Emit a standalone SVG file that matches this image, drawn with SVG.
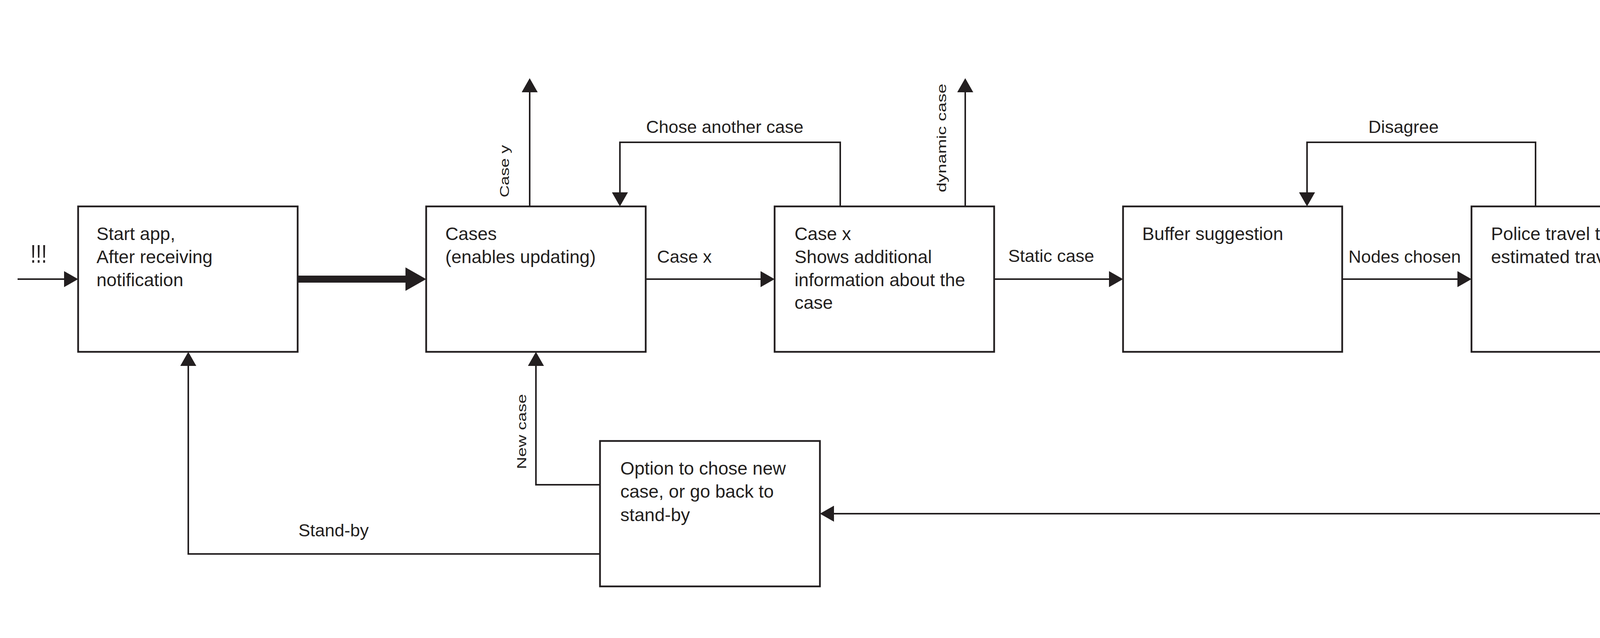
<svg xmlns="http://www.w3.org/2000/svg" width="5866" height="1632" viewBox="0 0 5866 1632">
<style>
.box{fill:#fff;stroke:#231f20;stroke-width:4.5}
.c{fill:none;stroke:#231f20;stroke-width:4}
.t{font-family:"Liberation Sans",Arial,sans-serif;font-size:46.5px;fill:#231f20}
.l{font-family:"Liberation Sans",Arial,sans-serif;font-size:45px;fill:#231f20}
.x{font-family:"Liberation Sans",Arial,sans-serif;font-size:64px;fill:#231f20}
.r{font-family:"Liberation Sans",Arial,sans-serif;font-size:33px;fill:#231f20}
</style>
<defs>
<marker id="ah" markerUnits="userSpaceOnUse" viewBox="0 0 36 41" markerWidth="36" markerHeight="41" refX="0" refY="20.5" orient="auto"><path d="M0,0 L36,20.5 L0,41 Z" fill="#231f20"/></marker>
<marker id="ahb" markerUnits="userSpaceOnUse" viewBox="0 0 53 60" markerWidth="53" markerHeight="60" refX="0" refY="30" orient="auto"><path d="M0,0 L53,30 L0,60 Z" fill="#231f20"/></marker>
</defs>
<rect width="5866" height="1632" fill="#fff"/>
<g id="connectors">
<path class="c" d="M45,714 H164" marker-end="url(#ah)"/>
<path fill="none" stroke="#231f20" stroke-width="18" d="M762,714 H1038" marker-end="url(#ahb)"/>
<path class="c" d="M1653,714 H1947" marker-end="url(#ah)"/>
<path class="c" d="M2545,714 H2839" marker-end="url(#ah)"/>
<path class="c" d="M3436,714 H3731" marker-end="url(#ah)"/>
<path class="c" d="M4328,714 H4623" marker-end="url(#ah)"/>
<path class="c" d="M5220,714 H5364 V1314 H4792" marker-end="url(#ah)"/>
<path class="c" d="M4194,1314 H2135" marker-end="url(#ah)"/>
<path class="c" d="M1536,1417 H482 V936" marker-end="url(#ah)"/>
<path class="c" d="M1536,1240 H1372 V936" marker-end="url(#ah)"/>
<path class="c" d="M1356,528 V236" marker-end="url(#ah)"/>
<path class="c" d="M2151,528 V364 H1587 V492" marker-end="url(#ah)"/>
<path class="c" d="M2471,528 V236" marker-end="url(#ah)"/>
<path class="c" d="M3931,528 V364 H3346 V492" marker-end="url(#ah)"/>
<text class="x" x="78" y="672" textLength="42" lengthAdjust="spacingAndGlyphs">!!!</text>
<text class="l" x="1682" y="672">Case x</text>
<text class="l" x="2581" y="670">Static case</text>
<text class="l" x="3452" y="672">Nodes chosen</text>
<text class="l" x="4404" y="670">Agree</text>
<text class="l" x="1654" y="340">Chose another case</text>
<text class="l" x="3503" y="340">Disagree</text>
<text class="l" x="4939" y="1267">Case done</text>
<text class="l" x="764" y="1372">Stand-by</text>
<text class="r" transform="translate(1303,505) rotate(-90)" textLength="134" lengthAdjust="spacingAndGlyphs">Case y</text>
<text class="r" transform="translate(2422,492) rotate(-90)" textLength="278" lengthAdjust="spacingAndGlyphs">dynamic case</text>
<text class="r" transform="translate(1347,1200) rotate(-90)" textLength="192" lengthAdjust="spacingAndGlyphs">New case</text>
</g>
<g id="start">
<rect class="box" x="200" y="528" width="562" height="372"/>
<text class="t" x="247" y="614">Start app,</text>
<text class="t" x="247" y="673">After receiving</text>
<text class="t" x="247" y="732">notification</text>
</g>
<g id="cases">
<rect class="box" x="1091" y="528" width="562" height="372"/>
<text class="t" x="1140" y="614">Cases</text>
<text class="t" x="1140" y="673">(enables updating)</text>
</g>
<g id="casex">
<rect class="box" x="1983" y="528" width="562" height="372"/>
<text class="t" x="2034" y="614">Case x</text>
<text class="t" x="2034" y="673">Shows additional</text>
<text class="t" x="2034" y="732">information about the</text>
<text class="t" x="2034" y="790">case</text>
</g>
<g id="buffer">
<rect class="box" x="2875" y="528" width="561" height="372"/>
<text class="t" x="2924" y="614">Buffer suggestion</text>
</g>
<g id="police">
<rect class="box" x="3767" y="528" width="561" height="372"/>
<text class="t" x="3817" y="614">Police travel times,</text>
<text class="t" x="3817" y="673">estimated travel time</text>
</g>
<g id="calculated">
<rect class="box" x="4659" y="528" width="561" height="372"/>
<text class="t" x="4710" y="614">Calculated travel time</text>
</g>
<g id="option">
<rect class="box" x="1536" y="1128" width="563" height="372"/>
<text class="t" x="1588" y="1214">Option to chose new</text>
<text class="t" x="1588" y="1273">case, or go back to</text>
<text class="t" x="1588" y="1333">stand-by</text>
</g>
<g id="reporting">
<rect class="box" x="4194" y="1128" width="562" height="372"/>
<text class="t" x="4243" y="1215">Reporting, make a log</text>
<text class="t" x="4243" y="1274">of action</text>
</g>
</svg>
